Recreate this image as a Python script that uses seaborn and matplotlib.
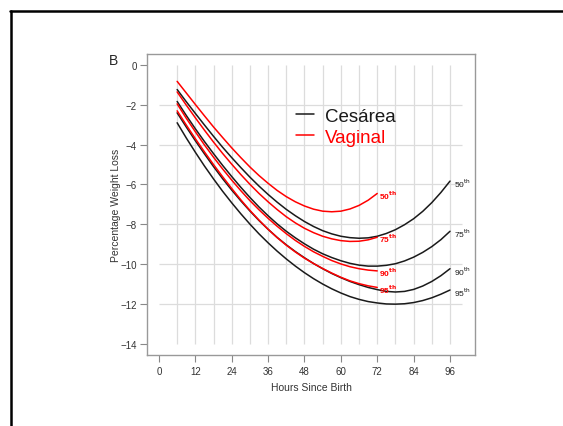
import numpy as np
import pandas as pd
import matplotlib
matplotlib.use("Agg")
import matplotlib.pyplot as plt
from matplotlib.lines import Line2D
import seaborn as sns

# values (percentage weight loss, every 3 hours)
hours_vag = list(range(6, 73, 3))
hours_ces = list(range(6, 97, 3))

vag_50 = [-0.82, -1.40, -1.98, -2.55, -3.11, -3.64, -4.16, -4.65, -5.12, -5.55, -5.94, -6.30,
          -6.61, -6.87, -7.08, -7.24, -7.34, -7.37, -7.34, -7.23, -7.05, -6.79, -6.45]
vag_75 = [-1.35, -2.01, -2.65, -3.27, -3.87, -4.44, -4.98, -5.50, -5.99, -6.45, -6.87, -7.26,
          -7.62, -7.93, -8.20, -8.42, -8.60, -8.73, -8.82, -8.86, -8.85, -8.78, -8.65]
vag_90 = [-1.95, -2.67, -3.35, -4.01, -4.63, -5.22, -5.78, -6.31, -6.81, -7.27, -7.70, -8.10,
          -8.47, -8.81, -9.11, -9.38, -9.61, -9.82, -9.99, -10.13, -10.23, -10.30, -10.34]
vag_95 = [-2.30, -3.01, -3.70, -4.36, -5.00, -5.61, -6.20, -6.77, -7.30, -7.79, -8.25, -8.67,
          -9.05, -9.39, -9.70, -9.97, -10.22, -10.45, -10.66, -10.84, -10.98, -11.09, -11.17]

ces_50 = [-1.23, -1.84, -2.43, -3.01, -3.58, -4.13, -4.65, -5.15, -5.63, -6.08, -6.50, -6.89,
          -7.25, -7.57, -7.86, -8.11, -8.32, -8.48, -8.60, -8.67, -8.70, -8.68, -8.60, -8.46,
          -8.27, -8.02, -7.72, -7.35, -6.91, -6.40, -5.83]
ces_75 = [-1.83, -2.53, -3.20, -3.84, -4.45, -5.04, -5.60, -6.14, -6.65, -7.13, -7.57, -7.98,
          -8.35, -8.68, -8.98, -9.25, -9.48, -9.67, -9.83, -9.96, -10.05, -10.10, -10.10, -10.06,
          -9.98, -9.84, -9.65, -9.41, -9.12, -8.77, -8.35]
ces_90 = [-2.40, -3.11, -3.80, -4.46, -5.10, -5.71, -6.28, -6.82, -7.33, -7.81, -8.25, -8.66,
          -9.03, -9.37, -9.68, -9.97, -10.23, -10.47, -10.68, -10.87, -11.03, -11.17, -11.28, -11.37,
          -11.40, -11.37, -11.27, -11.10, -10.87, -10.58, -10.23]
ces_95 = [-2.90, -3.66, -4.38, -5.07, -5.72, -6.34, -6.92, -7.47, -7.99, -8.48, -8.93, -9.35,
          -9.74, -10.10, -10.43, -10.73, -11.00, -11.24, -11.45, -11.63, -11.77, -11.88, -11.95, -12.00,
          -12.01, -11.99, -11.93, -11.83, -11.69, -11.51, -11.30]

pct_names = ["50", "75", "90", "95"]
x_ticks = [0, 12, 24, 36, 48, 60, 72, 84, 96]
y_ticks = [0, -2, -4, -6, -8, -10, -12, -14]
grid_x = list(range(6, 97, 6))
grid_y = [-2, -4, -6, -8, -10, -12]

sns.set_style("white")
plt.rcParams["font.family"] = ["Liberation Sans", "DejaVu Sans"]

fig = plt.figure(figsize=(5.63, 4.27), dpi=100)
ax = fig.add_axes([0.261, 0.166, 0.583, 0.705])

# light grey reference grid
ax.vlines(grid_x, -14, 0, color="#dcdcdc", lw=0.9, zorder=0)
ax.hlines(grid_y, 0, 100, color="#dcdcdc", lw=0.9, zorder=0)

ces = [ces_50, ces_75, ces_90, ces_95]
vag = [vag_50, vag_75, vag_90, vag_95]

for i, vals in enumerate(ces):
    sns.lineplot(x=hours_ces, y=vals, color="#1a1a1a", lw=1.1, ax=ax,
                 label="Cesárea" if i == 0 else None)
    ax.text(hours_ces[-1] + 1.2, vals[-1] - 0.08, pct_names[i] + r"$^{\mathrm{th}}$",
            fontsize=6, color="#1a1a1a", ha="left", va="center")

for i, vals in enumerate(vag):
    sns.lineplot(x=hours_vag, y=vals, color="#ff0000", lw=1.1, ax=ax,
                 label="Vaginal" if i == 0 else None)
    ax.text(hours_vag[-1] + 0.6, vals[-1] - 0.05, pct_names[i] + r"$^{\mathbf{th}}$",
            fontsize=6, color="#ff0000", ha="left", va="center", fontweight="bold")

ax.set_xlim(-3.96, 104.3)
ax.set_ylim(-14.57, 0.55)
ax.set_xticks(x_ticks)
ax.set_yticks(y_ticks)
ax.tick_params(axis="both", bottom=True, left=True, length=5, width=0.8, color="#888888",
               labelsize=7, labelcolor="#333333", pad=2.5, direction="out")
for s in ax.spines.values():
    s.set_color("#999999")
    s.set_linewidth(1.0)

ax.set_xlabel("Hours Since Birth", fontsize=7.5, color="#333333", labelpad=5)
ax.set_ylabel("Percentage Weight Loss", fontsize=7.5, color="#333333", labelpad=-1)

leg = ax.legend(loc="upper left", bbox_to_anchor=(0.455, 0.822), frameon=False,
                fontsize=13.5, handlelength=0.95, handletextpad=0.6,
                labelspacing=0.2, borderpad=0, borderaxespad=0,
                labelcolor="linecolor")

fig.text(113 / 563, 1 - 61 / 427, "B", fontsize=10, ha="center", va="center")

# black outer frame (cropped box from the source page)
fig.add_artist(Line2D([10 / 563, 1], [1 - 11.5 / 427, 1 - 11.5 / 427], color="black", lw=1.8,
                      transform=fig.transFigure))
fig.add_artist(Line2D([11 / 563, 11 / 563], [0, 1 - 11.5 / 427], color="black", lw=1.8,
                      transform=fig.transFigure))

fig.savefig("out.png", dpi=100)
